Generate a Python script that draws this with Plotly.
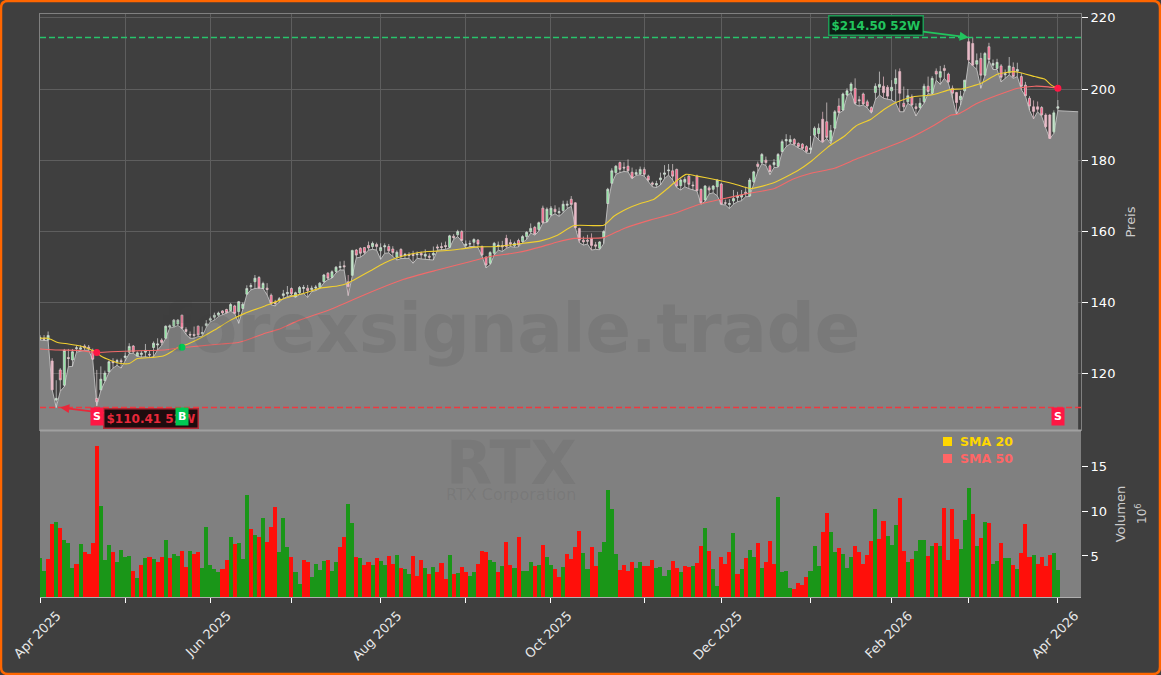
import plotly.graph_objects as go

W, H = 1161, 675

opens = [
129.6,129.9,129.4,123.5,112.5,121,116.7,124.5,123.8,127,
126.8,127.7,127.4,126.5,113,115.4,118,120.5,123.4,123.3,
123.6,124.5,126,127.7,124.9,125.3,126,125.4,127.3,128,
129.4,129.9,133,133.3,133.9,136.4,132.4,131,131,133.3,
131.2,133.5,135,135.8,136.4,137.6,138,137.7,139,137.4,
138.3,142.3,144.4,145.8,147,143.9,144,142,140,140.6,
141.9,142.4,143.9,141.6,142.7,143.9,144,143.6,144,144.2,
145.8,148.2,147,148.7,149.8,150.3,145.8,147.6,154.7,155.2,
155.4,156,155.7,156.3,154.5,155.6,155.7,155,152.7,154.9,
153.2,153.5,153.5,153.4,153.8,153,153,153.3,155.6,155.7,
156,155.5,158.6,159,159.9,156,156.4,156.9,157.5,155.7,
152.7,151,153.8,155.7,156,158,156.8,155.9,157.4,157.1,
158.5,159.9,161.1,160.5,166.5,162.7,164.6,166.2,165.2,165.8,
167.3,169,168,160.8,157.5,157.5,158,156.2,155.2,158.3,
167.8,173.5,176.5,179.3,178,178.3,176.6,176,176.1,177.4,
175.5,173.6,173,174.5,176,177,177,177.4,172.8,173.8,
175.5,173,175.5,171.8,168.8,172.2,171.8,172.5,173.3,168,
167.5,168.5,169.5,169.6,171,169.9,173.9,178.9,179.3,180,
178.4,178.7,178.3,182.4,185.4,185.1,185.8,184.7,184.5,183.8,
183,187,187.5,191.5,190.8,185.4,189,195.2,194.1,198.3,
199.5,200.2,197,198.6,196.4,194.8,199,200.5,200.8,200.5,
199.5,201.5,204.9,196,196.4,197.8,195,194.8,196.4,200.8,
198.8,205,203.3,205.8,204.2,200.2,199,197,199.5,213.3,
212.8,207,208.6,203.9,211.9,206.7,205.8,206.5,204,204.6,
206.1,205,203.5,201.1,197.4,195,195,194.8,192.7,192.7,
188,194.6]

highs = [
130.8,130.8,131.8,124.3,118.1,121.5,126.9,126.9,126.9,127.9,
127.9,128.2,128,127,121,122,120.8,123.6,124.3,124.1,
124.2,125.9,128.5,128,126.2,126.3,128.3,126.6,129,129.9,
129.9,133.5,133.8,135.3,135.3,136.5,133,131.8,133.2,133.5,
133.2,135,136,137.1,137.4,137.8,138.2,139.8,139.3,140.4,
140,144.8,145.4,147.7,147.4,145.8,145.4,142.5,140.7,141.5,
143.5,144.6,144.2,143,144.6,144.9,144.9,144.7,144.9,145.7,
148,148.5,149,150.2,151.5,151.7,147.7,154.8,155,155.5,
155.5,157.1,157.1,156.8,156.6,156.6,156.4,155.8,154.6,155.2,
153.9,154.1,154.5,154.3,154.3,154.9,153.8,155.7,156.3,156.8,
157.1,159,159.2,160.4,160.3,157.4,157.4,158,157.8,156,
153,154.4,157,157.1,157.3,159,157.7,157.1,157.9,158.9,
160,162.2,161.5,162.7,167.2,166.7,167.1,167.3,166.7,168.6,
168.6,169.9,168.2,161,158.5,159,159.4,157,157.2,160.3,
172.2,177.7,178.6,179.6,179.4,180.2,177.9,177.4,178.2,178,
175.9,174,174.2,176.5,178.6,178.9,178.9,177.6,174.9,175.3,
176,174,175.9,172,173,172.8,173,174.6,173.6,168.9,
169,171.6,171.1,171.6,172.5,175,177,179.6,182,181,
178.8,180.3,182,185.8,187.3,187,186.2,185,184.8,184.2,
186.8,189.5,190.3,193.6,196.2,189.9,194.1,197.4,199,200.2,
201.9,203,198,199,197,195.2,201.6,204.9,203.5,201.1,
202.5,205.5,205.8,200.7,200,198.5,196,197.5,201.5,203.5,
203.6,205.8,206.5,206.8,204.6,201,199.2,199.5,202.5,214.7,
214.5,210,210.2,210.4,213,208.3,208.5,207,205.5,209,
207.5,207.4,204.5,202,198,196.8,196.5,195.2,193.2,193,
194,196.9]

lows = [
129.4,129.2,129.2,115.4,110.41,115,116.3,121.9,122,126,
126.3,126.5,126.6,123.8,110.9,115.2,117.7,120.2,121.5,122.3,
121.5,123.5,125.6,125.7,124.8,124.6,124.7,124.5,124.7,126.6,
127.9,129.9,132.8,133,133.5,132.7,131,129.9,129.9,130.4,
130.4,132.9,134.5,135,136,136.5,136.9,137.5,136.9,134.1,
138,142.2,143.5,143.9,144,143.9,142.1,139.3,139,140,
141.1,141.6,142,141.4,142.2,142.5,141.4,143,143.3,143.9,
145.5,146.4,146.8,148.3,149.1,149.1,141.9,147.4,152.5,152.7,
153.5,154.7,154.9,154.7,152.1,153.8,153.9,152.9,151.9,152.3,
152.4,152.4,151,152.4,152.2,152.1,151.9,151.9,154.7,154.7,
154.9,155.3,157.7,158.5,157.2,155.2,155.7,155.7,155.4,153,
149.7,150.6,153.3,154.7,154.3,155.2,155.7,155.5,155.6,156.8,
157.7,159.5,158.9,160,162.3,162.5,164.3,164.9,164.2,165.2,
166.4,167,161.1,156.8,156.1,156.4,154.7,154.9,154.8,156.5,
167.7,173.4,176,176.5,176.8,176.7,174.8,175.7,175.9,175.5,
174,172.5,172.3,173,174.8,175.8,174.4,172.3,171.6,172.5,
172,171.6,171.3,167.6,168.4,170.5,170.8,170,167.5,167.4,
166.4,167.6,168.3,168.6,169.7,169.8,173.6,176.8,179,178.5,
175.9,177.9,178,182.2,183.8,184.6,184.2,183.4,183,182,
181.9,187,185.7,184.9,186.1,184.6,188.8,193.2,193.9,198,
199,195.7,195.2,195.5,194.7,193.2,197,198.3,197.4,197.1,
196.9,196.2,193.6,193.6,196,195.2,192.4,194.3,196,198.7,
198.5,202.5,201.3,203,201.6,197.5,192.7,195.5,199.5,207.7,
206.7,205.5,200.2,203.7,208,205.5,205.5,202,203,204,
203,203.5,199.8,198,194,191.6,193.6,192.3,189,186,
187.5,193.9]

closes = [
130.2,129.6,130.7,115.4,113,118.2,126.5,124.2,126.1,127.2,
127.2,127.2,127,124,112,118.4,120.1,123.3,123,123.6,
123.3,124.9,127.6,126.1,125.8,125.7,126.5,125.2,128.5,128.3,
128.7,133.3,133.4,135,135,132.7,131.8,130.8,130.7,130.8,
131.5,134,135.4,136.4,137,137,137.1,139.4,136.9,140.2,
139.5,143.9,144.7,146.8,144,145.3,143.6,139.7,139.6,141,
142.4,142.8,142.4,142.7,144.2,144.2,143.3,144,144.3,145.4,
147.7,146.8,148.6,149.9,150.1,150,144.4,154.6,153.3,153.8,
154,155.3,156.6,155.7,155.4,155.9,154.5,154,154.1,153,
153.5,153.2,153.2,153.6,153.3,153.5,152.7,153.8,155.3,155.4,
155.7,158.7,158.2,159.9,157.4,156.4,156.5,157.7,156.4,153.3,
150.5,154,156.6,156.1,155.6,155.7,156.4,156.6,156.1,158.5,
159.7,160.8,159.2,162.4,162.4,166.2,166.5,165.5,165.5,167.6,
167.6,167.5,161,157.5,157,157.2,156,155.8,157,159.9,
171.8,177,178.3,177.4,177.8,177,175,176.5,177.4,176,
174.4,173.2,173.4,175,176.4,177.2,175.5,172.7,174.4,174.6,
173.2,172.8,171.4,168,172.7,171.6,172.7,174.4,167.6,167.9,
167.8,169.2,169.9,170.2,170.6,174.4,176.7,178.2,181.6,179.3,
176.8,179.3,181.6,185.2,185.8,185.8,184.5,183.8,183.3,182.4,
183.4,189,189,185.2,186.4,188.3,193.6,193.4,198.6,199.5,
201.4,196,196.7,195.8,195.2,193.6,200.8,201.3,199,198,
200.5,203,198.8,195,198.1,195.5,194.5,196,200.8,199.3,
203,204.2,204.9,205.2,202,198.8,196.2,198,202.5,208.2,
206.7,208,203.9,210,208.3,207.2,207.5,203.3,204.3,206.5,
203.5,205.5,200.8,198.1,195.2,193.7,194.3,192.7,189.4,186.1,
193.3,195]

# candles drawn paler in the reference
pale_candles = [3,76,77,115,132,133,136,193,208,209,212,226,229,230,245,246,248,249,250]

volume = [
4.8,3.3,4.66,8.55,8.8,8.1,6.8,6.4,3.7,4.1,
6.3,5.4,5.2,6.4,17.2,10.55,4.55,6.2,5.4,4.3,
5.65,4.9,5,3.3,2.55,4,4.75,4.9,4.65,4.3,
4.9,6.8,4.75,5.2,5,5.55,3.8,5.55,5.2,5.4,
3.7,8.2,4,3.55,3.2,3.55,4.55,7.1,6.3,6.4,
4.65,11.75,8,7.3,7.1,9.2,6.55,8.2,10.45,5.45,
9.2,6,4.9,3.2,1.9,4.55,4.3,2.65,4.1,3.45,
4.45,4.55,3.3,4.3,6,7.1,10.8,8.65,4.9,4.75,
4,4.3,4,4.75,4.45,4,5,4.1,5.1,3.66,
3.55,3,5,2.8,4.55,3.66,3,3.77,3.2,4.2,
2.44,5.1,3,3.1,3.77,3.2,2.8,3.2,4.1,5.55,
5.45,4.55,4.33,3.2,3.9,6.55,4,3.66,7.1,3.33,
3.33,4.33,3.9,4,6.2,4.9,4,3.55,2.66,3.77,
5.2,4.66,6,7.77,5.33,3.55,6,3.9,5.45,6.55,
12.33,10.2,5.2,3.44,4,3.33,4.33,3.66,4.33,3.9,
3.9,4.55,3.66,3.77,2.8,3.44,4.44,3.66,3.2,3.9,
3.77,3.9,4.2,6.1,8.1,5.55,3.55,1.66,4.88,4.1,
5.45,7.55,3,3.55,4.77,5.66,4.88,6.44,3.66,4.33,
6.66,4.1,11.55,3.22,3.33,1.44,1.33,2,1.77,2.66,
3.33,6.1,3.88,7.66,9.77,7.66,5.44,5.88,5.22,3.66,
4.88,6.1,5.44,4.1,5.1,6.66,10.2,6.88,8.88,7.22,
6.22,8.44,11.44,5.55,4.33,4.66,5.55,6.77,6.77,5,
6.1,6.44,6.1,10.33,4.55,10.2,6.88,5.77,9,12.55,
9.66,6.1,7,8.77,8.66,4.1,4.44,6.44,4.77,4.77,
4,3.55,5.33,8.55,4.88,5.1,4.1,4.88,3.88,5.1,
5.33,3.44]

volume_sides = (
"GGRRGRGGGR" "GRRRRGGGRG" "GGGRGRGRGR" "RGRGGRRGRR" "GGGGGRRGRG"
"GGRGRGRRRG" "GGRGGRRGGG" "GRGGRRGGRG" "RRGRGGRRGR" "GGRRRGRGRR"
"RGRGRRGGRR" "RGGRGRRGRG" "GGRGRGGRRG" "RRRRGGRRGG" "GGGRRRRGGR"
"RRGGGGRRGR" "RGRRGRGGRR" "RGRGRGGRGR" "RRGGGGRRRR" "GGGRRGGRGG"
"GRRRRRGRRG" "GGRRGRGGGR" "GRGRRRRGGG" "RGRGRGGRGG" "RGRRRGRRRR"
"GG")

sma20_x = [0,2,4.4,7,10,12.7,14,15,17.6,20,22,24,27.5,30.4,32.4,34,36.5,39,43,47,50.5,55.5,59.3,61.7,65,69.1,73.3,75.9,77.4,81.5,84.8,87.7,91.5,95.5,99.6,103.7,107.8,112.8,117.7,123.5,127.6,131.7,139,141.6,144.9,148,151.4,154.3,157.2,159.3,162.1,167,171.2,175.3,181.1,186.8,190.1,194.2,198.4,201.2,204.9,208.2,211.5,215.6,219.8,224.7,227.2,229.6,232.1,236.2,240.3,245.3,247.7,249.4,251]
sma20_y = [129.9,129.9,128.7,128.3,127.7,126.6,125.9,124.9,123.6,122.8,122.8,124.2,124.5,124.9,126.1,127.3,128.3,129.6,132.2,135,136.9,139,140.7,141.6,142.5,144,144.6,145.4,146.3,148.9,151,152.4,153.6,154.3,154.5,155,155.6,155.7,156.4,157.3,158.9,161.6,161.7,164.3,166.4,167.8,169,171.6,174.4,176,175.5,174.4,173.3,172,173.7,177,179.6,183.6,186.8,189.6,191.5,194.3,196.4,197.9,198.3,199.9,200,200.7,201.6,204.2,204.9,203.5,202.8,201.1,200.2]
sma50_x = [0,4.4,9.4,13.9,17.6,24.2,30.8,34.9,39,44.8,48.9,52.2,55.5,58.8,64,71.6,79.9,89.7,98,106.2,111,117.7,123.5,127.6,131.7,139,144,150.6,156.4,162.1,167.9,174.5,181.1,185.6,190.1,195.9,201.7,208.2,214.8,220.6,224.7,226.3,231,236.2,241.1,245.3,248.6,251]
sma50_y = [126.9,126.6,126.5,125.9,126.1,126.4,126.6,127.3,127.7,128.3,128.7,129.9,131.3,132.4,135,138,142.1,146.5,149.1,151.5,152.9,154,155.6,157,158,158.2,160.8,163.2,165,167.4,169,170.6,172,174.6,176.3,177.7,180.5,183.3,186.4,189.9,192.7,192.9,195.9,198.3,200.2,200.8,200.6,200.2]

tick_idx = [0,21,42,62,84,105,126,149,168,190,210,229,251]
tick_text = ["Apr 2025","","Jun 2025","","Aug 2025","","Oct 2025","","Dec 2025","","Feb 2026","","Apr 2026"]

high_52w = 214.50
low_52w = 110.41
last_low = 193.6
area_end = 256
x_max = 256.7

DARK = "#3f3f3f"
ORANGE = "#ff6600"
YELLOW = "#f0cf30"
SALMON = "#f26a6a"
BUY = "#00c853"
SELL = "#ff1744"

def fx(p): return p / W
def fy(p): return 1 - p / H

idx = list(range(len(closes)))
solid = [i for i in idx if i not in pale_candles]

def candles(rows, up_fill, down_fill, up_line, down_line):
    return go.Candlestick(x=rows, open=[opens[i] for i in rows], high=[highs[i] for i in rows],
                          low=[lows[i] for i in rows], close=[closes[i] for i in rows],
                          increasing=dict(fillcolor=up_fill, line=dict(color=up_line, width=0.7)),
                          decreasing=dict(fillcolor=down_fill, line=dict(color=down_line, width=0.7)),
                          showlegend=False, xaxis="x3", yaxis="y3")

fig = go.Figure()

# area of the lows, in the base subplot so that candles sit above it
fig.add_trace(go.Scatter(x=idx + [area_end], y=lows + [last_low], mode="lines",
                         line=dict(color="#b9b9b9", width=1), fill="tozeroy",
                         fillcolor="#828282", showlegend=False, hoverinfo="skip",
                         xaxis="x", yaxis="y"))
fig.add_trace(candles(solid, "#86e59a", "#ff5d87", "#dcdcdc", "#e0d4d4"))
fig.add_trace(candles(pale_candles, "#c4e4ca", "#e9bcc8", "#c4e4ca", "#e9bcc8"))
fig.add_trace(go.Scatter(x=sma20_x, y=sma20_y, mode="lines", name="SMA 20",
                         line=dict(color=YELLOW, width=1.1, shape="spline", smoothing=0.5),
                         showlegend=False, xaxis="x3", yaxis="y3"))
fig.add_trace(go.Scatter(x=sma50_x, y=sma50_y, mode="lines", name="SMA 50",
                         line=dict(color=SALMON, width=1.1, shape="spline", smoothing=0.5),
                         showlegend=False, xaxis="x3", yaxis="y3"))
fig.add_trace(go.Scatter(x=[14, 35, 251], y=[125.9, 127.4, 200.2], mode="markers",
                         marker=dict(color=[SELL, BUY, SELL], size=7), showlegend=False,
                         xaxis="x3", yaxis="y3"))
fig.add_trace(go.Bar(x=idx, y=volume, width=1.0,
                     marker=dict(color=["#ff0f0a" if s == "R" else "#1a9618" for s in volume_sides],
                                 line=dict(width=0)),
                     showlegend=False, xaxis="x2", yaxis="y2"))

xdom = [fx(40), fx(1081)]
frame = "#808080"
GRID = "#5e5e5e"
fig.update_layout(
    width=W, height=H, margin=dict(l=0, r=0, t=0, b=0, autoexpand=False),
    paper_bgcolor=DARK, plot_bgcolor=DARK, bargap=0,
    font=dict(family="DejaVu Sans", color="#f0f0f0", size=13),
    showlegend=False,
    xaxis=dict(domain=xdom, anchor="y", range=[0, x_max], tickvals=tick_idx, showticklabels=False,
               ticks="", showgrid=True, gridcolor=GRID, gridwidth=1, zeroline=False,
               rangeslider=dict(visible=False), showline=True, linecolor=frame, mirror=True),
    yaxis=dict(domain=[fy(430), fy(14)], anchor="x", range=[104.1, 221.1], side="right",
               tickvals=[120, 140, 160, 180, 200, 220], ticks="outside", ticklen=6, tickcolor="#ffffff",
               showgrid=True, gridcolor=GRID, gridwidth=1, zeroline=False,
               showline=True, linecolor=frame, mirror=True,
               tickfont=dict(size=13, color="#ffffff"),
               title=dict(text="Preis", font=dict(size=13, color="#cccccc"), standoff=11)),
    xaxis3=dict(overlaying="x", anchor="y3", range=[0, x_max], visible=False,
                rangeslider=dict(visible=False)),
    yaxis3=dict(overlaying="y", anchor="x3", range=[104.1, 221.1], visible=False, side="right"),
    xaxis2=dict(domain=xdom, anchor="y2", range=[0, x_max], tickvals=tick_idx, ticktext=tick_text,
                tickmode="array", tickangle=-45, ticks="outside", ticklen=5, tickcolor="#ffffff",
                showgrid=False, zeroline=False, ticklabelshift=17, ticklabelstandoff=0,
                showline=True, linecolor="#b0b0b0",
                tickfont=dict(size=13, color="#e8e8e8")),
    yaxis2=dict(domain=[fy(597), fy(431)], anchor="x2", range=[0.44, 18.9], side="right",
                tickvals=[5, 10, 15], ticks="outside", ticklen=6, tickcolor="#ffffff",
                showgrid=False, zeroline=False,
                tickfont=dict(size=13, color="#ffffff"),
                title=dict(text="Volumen", font=dict(size=13, color="#cccccc"), standoff=9)),
    shapes=[
        dict(type="rect", xref="x2 domain", yref="y2 domain", x0=0, x1=1, y0=0, y1=1,
             fillcolor="#808080", line=dict(width=0), layer="below"),
        dict(type="line", xref="x", yref="y", x0=0, x1=x_max, y0=high_52w, y1=high_52w,
             line=dict(color="#27c46b", width=1.5, dash="6px,3px")),
        dict(type="line", xref="x", yref="y", x0=0, x1=x_max, y0=low_52w, y1=low_52w,
             line=dict(color="#f0383f", width=1.5, dash="6px,3px")),
        dict(type="line", xref="paper", yref="paper", x0=fx(40), x1=fx(1081), y0=fy(430.5), y1=fy(430.5),
             line=dict(color="#a0a0a0", width=2)),
        dict(type="rect", xref="paper", yref="paper", x0=fx(943), x1=fx(952), y0=fy(446), y1=fy(437),
             fillcolor="#ffd700", line=dict(width=0)),
        dict(type="rect", xref="paper", yref="paper", x0=fx(943), x1=fx(952), y0=fy(463), y1=fy(454),
             fillcolor="#ff6666", line=dict(width=0)),
        dict(type="path", xref="paper", yref="paper",
             path=(f"M {fx(8)} {fy(1)} L {fx(W-8)} {fy(1)} Q {fx(W-1)} {fy(1)} {fx(W-1)} {fy(8)} "
                   f"L {fx(W-1)} {fy(H-8)} Q {fx(W-1)} {fy(H-1)} {fx(W-8)} {fy(H-1)} "
                   f"L {fx(8)} {fy(H-1)} Q {fx(1)} {fy(H-1)} {fx(1)} {fy(H-8)} "
                   f"L {fx(1)} {fy(8)} Q {fx(1)} {fy(1)} {fx(8)} {fy(1)} Z"),
             line=dict(color=ORANGE, width=2.5)),
    ],
    annotations=[
        dict(xref="paper", yref="paper", x=fx(511), y=fy(329), xanchor="center", yanchor="middle",
             text="<b>forexsignale.trade</b>", showarrow=False,
             font=dict(size=67, color="rgba(60,60,60,0.13)", family="DejaVu Sans")),
        dict(xref="paper", yref="paper", x=fx(511), y=fy(463), xanchor="center", yanchor="middle",
             text="<b>RTX</b>", showarrow=False,
             font=dict(size=60, color="rgba(60,60,60,0.10)", family="DejaVu Sans")),
        dict(xref="paper", yref="paper", x=fx(511), y=fy(494), xanchor="center", yanchor="middle",
             text="RTX Corporation", showarrow=False,
             font=dict(size=16, color="rgba(60,60,60,0.10)", family="DejaVu Sans")),
        dict(xref="paper", yref="paper", x=fx(1141), y=fy(514), xanchor="center", yanchor="middle",
             text="10<sup>6</sup>", textangle=-90, showarrow=False,
             font=dict(size=12, color="#cccccc")),
        dict(x=229, y=high_52w, xref="x", yref="y", text="<b>$214.50 52W</b>", showarrow=True,
             ax=-93, ay=-12, arrowhead=2, arrowsize=1, arrowwidth=1.8, arrowcolor="#22c55e",
             bgcolor="#0c2016", bordercolor="#1f9a55", borderwidth=1.5, borderpad=2,
             font=dict(size=12, color="#22c55e")),
        dict(x=5, y=low_52w, xref="x", yref="y", text="<b>$110.41 52W</b>", showarrow=True,
             ax=91, ay=11, arrowhead=2, arrowsize=1, arrowwidth=1.8, arrowcolor="#e8283a",
             bgcolor="#1e0c0e", bordercolor="#b02a36", borderwidth=1.5, borderpad=2,
             font=dict(size=12, color="#e8283a")),
        dict(x=14, y=108, xref="x", yref="y", text="<b>S</b>", showarrow=False, bgcolor=SELL,
             borderpad=2, font=dict(size=11, color="#ffffff")),
        dict(x=35, y=108, xref="x", yref="y", text="<b>B</b>", showarrow=False, bgcolor=BUY,
             borderpad=2, font=dict(size=11, color="#ffffff")),
        dict(x=251, y=108, xref="x", yref="y", text="<b>S</b>", showarrow=False, bgcolor=SELL,
             borderpad=2, font=dict(size=11, color="#ffffff")),
        dict(xref="paper", yref="paper", x=fx(958), y=fy(441.5), xanchor="left", yanchor="middle",
             text="<b>SMA 20</b>", showarrow=False, font=dict(size=12.5, color="#ffd700")),
        dict(xref="paper", yref="paper", x=fx(958), y=fy(458.5), xanchor="left", yanchor="middle",
             text="<b>SMA 50</b>", showarrow=False, font=dict(size=12.5, color="#ff6666")),
    ],
)

fig.write_html("out.html", post_script="document.body.style.margin='0';document.body.style.background='#3f3f3f';",
               config=dict(displayModeBar=False))
